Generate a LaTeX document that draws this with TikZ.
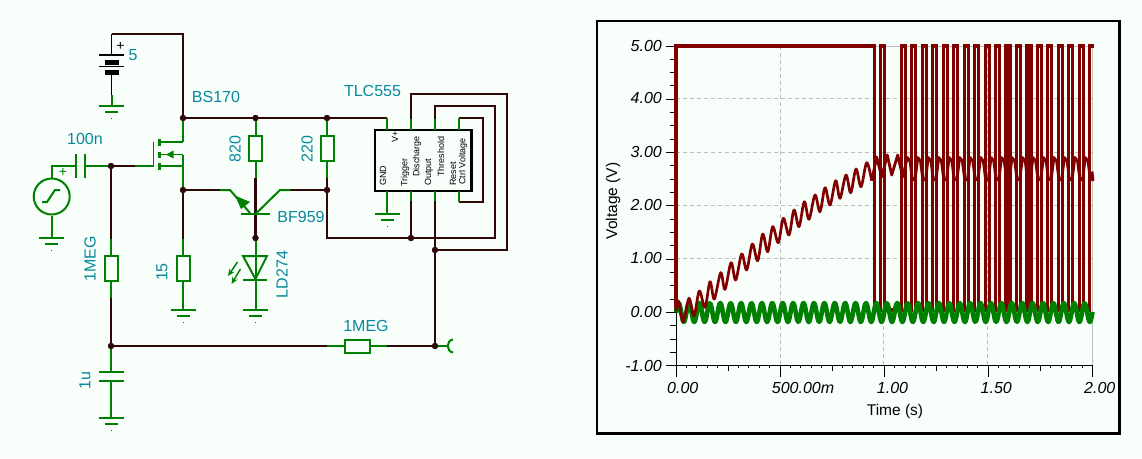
\documentclass[tikz,border=0pt]{standalone}
\usepackage{fontspec}
\setmainfont{Liberation Sans}
\usetikzlibrary{arrows.meta}
\definecolor{bgc}{RGB}{248,255,251}
\definecolor{wirec}{RGB}{48,8,8}
\definecolor{leadc}{RGB}{0,128,0}
\definecolor{lblc}{RGB}{8,136,155}
\definecolor{tracec}{RGB}{128,0,0}
\definecolor{gridc}{RGB}{190,190,190}
\tikzset{
  wire/.style={draw=wirec,line width=2.1pt},
  lead/.style={draw=leadc,line width=2pt},
  thinlead/.style={draw=leadc,line width=1.3pt},
  dotj/.style={circle,fill=wirec,inner sep=0pt,minimum size=6.2pt},
  resv/.style={draw=leadc,line width=2pt,fill=none,minimum width=13pt,minimum height=25pt,inner sep=0pt},
  resh/.style={draw=leadc,line width=2pt,fill=none,minimum width=25pt,minimum height=13pt,inner sep=0pt},
  lbl/.style={text=lblc,inner sep=0pt,font=\fontsize{16}{16}\selectfont},
  pinl/.style={text=black,inner sep=0pt,rotate=90,anchor=west,font=\fontsize{9}{9}\selectfont},
  ticky/.style={text=black,inner sep=0pt,anchor=east,font=\fontsize{16}{16}\selectfont\itshape},
  tickx/.style={text=black,inner sep=0pt,anchor=west,font=\fontsize{16}{16}\selectfont\itshape},
  axt/.style={text=black,inner sep=0pt,font=\fontsize{15.5}{16}\selectfont},
  gndsym/.pic={
    \draw[lead] (-12.5,0)--(12.5,0);
    \draw[lead] (-6.5,6)--(6.5,6);
    \fill[leadc] (-0.5,11.5) rectangle (0.5,12.5);
  },
}
\begin{document}
\begin{tikzpicture}[x=1pt,y=-1pt]
\useasboundingbox (0,0) rectangle (1142,458);
\fill[bgc] (0,0) rectangle (1142,458);

% ---------- named points ----------
\coordinate (batTop) at (111.5,34);
\coordinate (railCorner) at (183,34);
\node[dotj] (jD) at (183,118) {};
\node[dotj] (jR820) at (255.5,118) {};
\node[dotj] (jR220) at (327,118) {};
\node[dotj] (jS) at (183,190) {};
\node[dotj] (jC) at (327,190) {};
\node[dotj] (jLED) at (255.5,238) {};
\node[dotj] (jTrig) at (411,238) {};
\node[dotj] (jOut) at (435,250) {};
\node[dotj] (jProbe) at (435,346) {};
\node[dotj] (jG) at (111,166) {};
\node[dotj] (jMid) at (111,346) {};
\coordinate (pVp) at (387,130);
\coordinate (pDis) at (411,130);
\coordinate (pThr) at (435,130);
\coordinate (pCtl) at (459,130);
\coordinate (pGnd) at (387,191);
\coordinate (pTrg) at (411,191);
\coordinate (pOut) at (435,191);
\coordinate (pRst) at (459,191);

% ---------- components as nodes ----------
\node[resv] (r820) at (255.5,148.5) {};
\node[resv] (r220) at (327,148.5) {};
\node[resv] (r15) at (183,268.5) {};
\node[resv] (r1m) at (111,268.5) {};
\node[resh] (r1mh) at (357.5,346) {};
\node[draw=black,line width=2.2pt,minimum width=96.5pt,minimum height=60.5pt,inner sep=0pt] (ic) at (423.3,160.4) {};
\node[draw=leadc,line width=2pt,circle,minimum size=36pt,inner sep=0pt] (src) at (51.7,196.5) {};

% ---------- dark wires ----------
\draw[wire] (batTop) -- (railCorner) -- (jD);
\draw[wire] (jD) -- (pVp |- jD);
\draw[wire] (r220 |- jC) ++(0,-12) -- (jC) -- (327,238) -- (jTrig) -- (495,238) -- (495,106) -- (435,106) -- (435,119);
\draw[wire] (411,119) -- (411,94) -- (507,94) -- (507,250) -- (jOut);
\draw[wire] (459,118) -- (483,118) -- (483,202) -- (459,202);
\draw[wire] (411,201) -- (jTrig);
\draw[wire] (435,201) -- (jProbe);
\draw[wire] (jS) -- (220,190);
\draw[wire] (290,190) -- (jC);
\draw[wire] (255.5,178) -- (jLED);
\draw[wire] (jG) -- (135,166);
\draw[wire] (jS) -- (183,239);
\draw[wire] (jG) -- (111,239);
\draw[wire] (111,298) -- (jMid) -- (327,346);
\draw[wire] (387,346) -- (jProbe);

% ---------- green leads ----------
\draw[lead] (jR820) -- (r820.north);
\draw[lead] (r820.south) -- (255.5,178);
\draw[lead] (jR220) -- (r220.north);
\draw[lead] (r220.south) -- (327,178);
\draw[lead] (r15.north) -- (183,239);
\draw[lead] (r1m.north) -- (111,239);
\draw[lead] (r1m.south) -- (111,298);
\draw[lead] (327,346) -- (r1mh.west);
\draw[lead] (r1mh.east) -- (387,346);
\draw[lead] (pVp |- jD) -- (pVp);
\draw[lead] (411,119) -- (pDis);
\draw[lead] (435,119) -- (pThr);
\draw[lead] (459,118) -- (pCtl);
\draw[lead] (pGnd) -- (387,214);
\draw[lead] (pTrg) -- (411,201);
\draw[lead] (pOut) -- (435,201);
\draw[lead] (pRst) -- (459,202);
\pic at (387,214) {gndsym};
\draw[lead] (r15.south) -- (183,310);
\pic at (183,310) {gndsym};

% probe
\draw[lead] (jProbe) -- (448,346);
\draw[lead] (453,339.5) .. controls (446,340.5) and (446,351.5) .. (453,352.5);

% battery
\draw[black,line width=1.2pt] (batTop) -- (111.5,55);
\draw[black,line width=1.2pt] (99,55)--(124,55);
\fill[black] (105,60) rectangle (119,64.5);
\draw[black,line width=1.2pt] (99,66.5)--(124,66.5);
\fill[black] (105,70) rectangle (119,74.5);
\draw[black,line width=1.2pt] (111.5,74)--(111.5,95);
\draw[lead] (111.5,95)--(111.5,106);
\pic at (111.5,106) {gndsym};
\node[text=black,inner sep=0pt,font=\fontsize{14}{14}\selectfont] (batplus) at (120.5,46) {+};
\node[lbl] (lfive) at (133,55) {5};

% source + coupling capacitor
\draw[lead] (src.north) -- (51.7,166) -- (76,166);
\draw[lead] (76,154)--(76,178);
\draw[lead] (85,154)--(85,178);
\draw[lead] (85,166) -- (jG);
\node[text=leadc,inner sep=0pt,font=\fontsize{14}{14}\selectfont] (srcplus) at (63,172) {+};
\draw[lead] (42,202)--(47,202)--(55,190)--(60,190);
\draw[lead] (src.south) -- (51.7,238);
\pic at (51.7,238) {gndsym};

% MOSFET
\draw[thinlead] (135,166) -- (153.5,166);
\draw[thinlead] (153.5,142) -- (153.5,166);
\fill[leadc] (157.5,139) rectangle (160.5,146);
\fill[leadc] (157.5,151.5) rectangle (160.5,158);
\fill[leadc] (157.5,163) rectangle (160.5,170);
\draw[thinlead] (159,142) -- (183,142);
\draw[thinlead] (159,154.5) -- (183,154.5);
\draw[thinlead] (159,166) -- (183,166);
\draw[thinlead] (183,120) -- (183,142);
\draw[thinlead] (183,154.5) -- (183,188);
\fill[leadc] (166,154.5) -- (173.5,150.5) -- (173.5,158.5) -- cycle;

% BJT
\draw[lead] (220,190) -- (230,190) -- (250,213);
\fill[leadc] (235,195.5) -- (250,202) -- (241,209) -- cycle;
\draw[lead] (255.5,214) -- (280,190) -- (290,190);
\draw[lead,line width=2.2pt] (241,214) -- (270,214);

% LED
\draw[lead] (jLED) -- (255.5,310);
\draw[lead] (243,256) -- (267,256) -- (255.5,279) -- cycle;
\draw[lead] (243,280) -- (267,280);
\pic at (255.5,310) {gndsym};
\draw[leadc,line width=1.5pt,-{Stealth[length=7pt,width=6pt]}] (237.5,262) -- (228,276);
\draw[leadc,line width=1.5pt,-{Stealth[length=7pt,width=6pt]}] (240.5,269) -- (231.5,284);

% bottom capacitor
\draw[lead] (jMid) -- (111,372);
\draw[lead] (99,372)--(124,372);
\draw[lead] (99,381)--(124,381);
\draw[lead] (111,381) -- (111,418);
\pic at (111,418) {gndsym};

% redraw junction dots above the wires
\foreach \j in {jD,jR820,jR220,jS,jC,jLED,jTrig,jOut,jProbe,jG,jMid}
  \fill[wirec] (\j) circle (3.1);

% ---------- schematic labels ----------
\node[lbl] (lBS) at (216,97) {BS170};
\node[lbl] (lTLC) at (372.5,90.5) {TLC555};
\node[lbl] (l100n) at (85,139) {100n};
\node[lbl,rotate=90] (l820) at (235,149) {820};
\node[lbl,rotate=90] (l220) at (307,149) {220};
\node[lbl] (lBF) at (301,217) {BF959};
\node[lbl,rotate=90] (lLD) at (282,274.5) {LD274};
\node[lbl,rotate=90] (l15) at (162,272) {15};
\node[lbl,rotate=90] (l1m) at (90,259) {1MEG};
\node[lbl,rotate=90] (l1u) at (85,380.5) {1u};
\node[lbl] (l1mh) at (366,325.5) {1MEG};
\node[pinl] (pnGND) at (383,186) {GND};
\node[pinl] (pnV) at (395,143) {V+};
\node[pinl] (pnTr) at (405,187) {Trigger};
\node[pinl] (pnDi) at (417,177) {Discharge};
\node[pinl] (pnOu) at (429,186) {Output};
\node[pinl] (pnTh) at (441,177) {Threshold};
\node[pinl] (pnRe) at (453,186) {Reset};
\node[pinl] (pnCt) at (463,185) {Ctrl Voltage};

% ---------- graph ----------
\draw[black,line width=2.7pt] (597,21) rectangle (1119.5,433.3);
% grid
\foreach \yy in {98.3,152,205.3,258.3}
  \draw[gridc,line width=1pt,dash pattern=on 3.5pt off 3.5pt] (676,\yy) -- (1092,\yy);
\foreach \xx in {780.7,883.3,987.5}
  \draw[gridc,line width=1pt,dash pattern=on 3.5pt off 3.5pt] (\xx,46) -- (\xx,366);
\draw[gridc,line width=1pt] (676,46) -- (1092.5,46) -- (1092.5,366);

% axes
\draw[black,line width=1pt] (676,46) -- (676,366);
\draw[black,line width=1pt] (666,365.7) -- (1092.5,365.7);
\foreach \v in {0,...,6}
  \draw[black,line width=1pt] ({676},{46+53.3*\v}) -- ({666},{46+53.3*\v});
\foreach \v in {1,2,3,5,6,7,9,10,11,13,14,15,17,18,19,21,22,23}
  \draw[black,line width=1pt] ({676},{46+13.32*\v}) -- ({670},{46+13.32*\v});
\foreach \k in {1,...,40}
  \draw[black,line width=1pt] ({676+10.41*\k},365.7) -- ({676+10.41*\k},368);
\foreach \k in {1,3,5,7}
  \draw[black,line width=1pt] ({676+52.05*\k},365.7) -- ({676+52.05*\k},370.5);
\foreach \k in {0,2,4,6,8}
  \draw[black,line width=1pt] ({676+52.05*\k},365.7) -- ({676+52.05*\k},377);

% square wave
\draw[tracec,line width=3.1pt,miter limit=2]
  (676,310) -- (676,46) -- (874.3,46) -- (874.3,310) -- (880.3,310) -- (880.3,46) -- (884.3,46) -- (884.3,310)
  \foreach \k in {0,...,17} { -- ({901.3+10.47*\k},310) -- ({901.3+10.47*\k},46) -- ({905.3+10.47*\k},46) -- ({905.3+10.47*\k},310) }
  -- (1089.8,310) -- (1089.8,46) -- (1093.5,46);

% capacitor voltage after threshold
\draw[tracec,line width=2.8pt,line join=round]
  (871.7,180.7) -- (876.7,157) -- (881.7,177) -- (887.3,155) -- (891.7,175) -- (897.7,155) -- (902.7,177)
  \foreach \k in {0,...,17} { -- ({907.3+10.47*\k},157.5) -- ({910+10.47*\k},161) -- ({912.3+10.47*\k},179) -- ({915+10.47*\k},180) }
  -- (1092,171.5);

% green input
\draw[leadc,line width=4.6pt,line join=round] plot[domain=0:416.5,samples=500] ({676+\x},{312.5-9.5*sin(360*(\x/10.41))});

% capacitor voltage ramp
\draw[tracec,line width=2.7pt,line join=round] plot[smooth,tension=0.55] coordinates {
 (676,311) (678.5,301) (683.3,321.7) (689,298.3) (694,316) (699.3,291) (705,307.3) (710,281.7)
 (714.3,299) (720.7,272.7) (725,289.3) (731,262.7) (735.7,280) (741.7,254) (746.7,270) (752.3,244)
 (757.7,260.7) (762.7,234) (767.7,251.7) (772.7,226.7) (778.3,242.7) (783.3,218.3) (789,235)
 (794,210) (799,226.7) (804.3,201.7) (809,219.3) (815,195) (820,211.7) (825,187.7) (830,205)
 (835.7,180.7) (840,198.3) (846,175) (850.7,192.7) (856,169) (861,186.7) (866.7,162.7) (871.7,180.7)};

% tick labels
\node[ticky] (y5) at (662,46) {5.00};
\node[ticky] (y4) at (662,98.3) {4.00};
\node[ticky] (y3) at (662,152) {3.00};
\node[ticky] (y2) at (662,205.3) {2.00};
\node[ticky] (y1) at (662,258.3) {1.00};
\node[ticky] (y0) at (662,311.6) {0.00};
\node[ticky] (ym) at (662,365.7) {-1.00};
\node[tickx] (x0) at (667,388) {0.00};
\node[tickx] (x1) at (771.7,388) {500.00m};
\node[tickx] (x2) at (876.7,388) {1.00};
\node[tickx] (x3) at (980.5,388) {1.50};
\node[tickx] (x4) at (1084,388) {2.00};
\node[axt] (tT) at (895,411.5) {Time (s)};
\node[axt,rotate=90] (tV) at (613,201) {Voltage (V)};
\end{tikzpicture}
\end{document}
